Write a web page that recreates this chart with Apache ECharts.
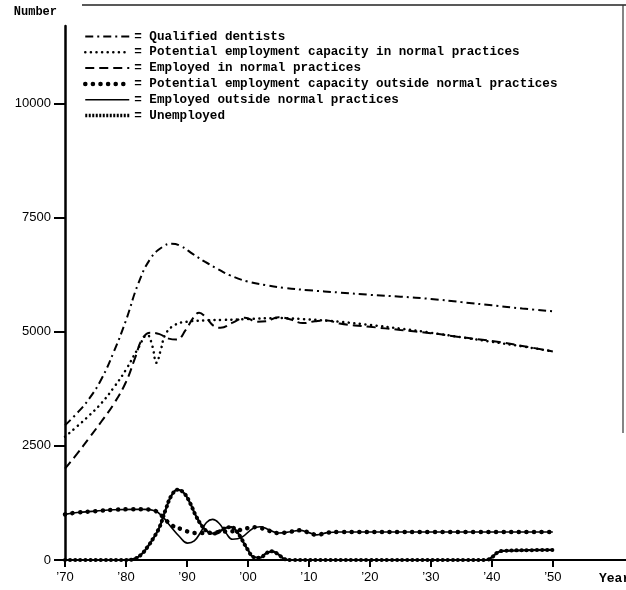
<!DOCTYPE html>
<html>
<head>
<meta charset="utf-8">
<script src="https://cdn.jsdelivr.net/npm/echarts@6/dist/echarts.min.js"></script>
<style>
  html, body { margin: 0; padding: 0; background: #fff; }
  #chart { width: 626px; height: 590px; }
</style>
</head>
<body>
<div id="chart"></div>
<script>
// values: [year, number]
const qualifiedDentists = [
  [1970, 2950], [1972, 3220], [1974, 3540], [1976, 3970], [1978, 4560], [1980, 5250],
  [1982, 6050], [1984, 6600], [1986, 6860], [1987.5, 6930], [1989, 6880], [1991, 6700],
  [1993, 6530], [1995, 6380], [1997, 6240], [2000, 6100], [2003, 6020], [2006, 5960],
  [2010, 5910], [2015, 5860], [2020, 5810], [2025, 5770], [2030, 5720], [2035, 5650],
  [2040, 5580], [2045, 5510], [2050, 5450]
];
const capacityNormal = [
  [1970, 2700], [1972, 2930], [1974, 3170], [1976, 3440], [1978, 3780], [1980, 4170],
  [1982, 4640], [1983.5, 4930], [1984.3, 4700], [1985, 4320], [1985.7, 4600], [1986.5, 4950],
  [1988, 5150], [1990, 5220], [1993, 5250], [1996, 5260], [2000, 5280], [2005, 5300],
  [2010, 5270], [2015, 5220], [2020, 5150], [2025, 5070], [2030, 4980], [2035, 4880],
  [2040, 4780], [2045, 4680], [2050, 4570]
];
const employedNormal = [
  [1970, 2000], [1972, 2330], [1974, 2680], [1976, 3040], [1978, 3420], [1980, 3900],
  [1981.5, 4430], [1982.7, 4850], [1984, 4980], [1985.5, 4950], [1987, 4850], [1988.3, 4830],
  [1989.8, 5040], [1991, 5300], [1992, 5420], [1993, 5330], [1994.5, 5120], [1995.5, 5090],
  [1997.5, 5200], [1999.5, 5310], [2001.5, 5220], [2003, 5230], [2005, 5320], [2007, 5270],
  [2009, 5190], [2011, 5230], [2013, 5250], [2015, 5180], [2020, 5110], [2025, 5040],
  [2030, 4970], [2035, 4880], [2040, 4800], [2045, 4690], [2050, 4570]
];
const capacityOutside = [
  [1970, 1000], [1972, 1040], [1975, 1070], [1978, 1100], [1981, 1110], [1983, 1110],
  [1984.5, 1090], [1985.5, 1010], [1986.5, 880], [1987.5, 760], [1989, 680], [1990.5, 610],
  [1992, 590], [1994, 600], [1996, 620], [1998, 640], [2000, 700], [2001.5, 720],
  [2003, 660], [2005, 590], [2007, 620], [2008.5, 650], [2010, 600], [2011.3, 550],
  [2013, 600], [2015, 615], [2030, 615], [2050, 615]
];
const employedOutside = [
  [1970, 1000], [1972, 1040], [1975, 1070], [1978, 1100], [1981, 1110], [1983, 1110],
  [1984.7, 1080], [1986, 950], [1987.1, 770], [1988.8, 510], [1990.1, 370], [1991.2, 420],
  [1992.3, 620], [1993.2, 820], [1994.2, 890], [1995.3, 800], [1996.4, 590], [1997.5, 455],
  [1999, 500], [2000.8, 690], [2002, 730], [2003.5, 660], [2005, 590], [2007, 620],
  [2008.5, 650], [2010, 600], [2011.3, 550], [2013, 600], [2015, 615], [2030, 615], [2050, 615]
];
const unemployed = [
  [1970, 0], [1975, 0], [1980, 0], [1981.5, 30], [1982.5, 120], [1983.5, 280], [1984.5, 480],
  [1985.5, 720], [1986.5, 1100], [1987.5, 1420], [1988.5, 1540], [1989.5, 1470], [1990.5, 1250],
  [1991.5, 960], [1992.5, 740], [1993.5, 610], [1994.5, 580], [1995.5, 640], [1996.5, 710],
  [1997.3, 720], [1998.2, 620], [1999, 450], [2000, 220], [2001, 60], [2002, 50], [2003, 150],
  [2004, 190], [2005, 120], [2006, 20], [2007, 0], [2020, 0], [2039, 0], [2040, 60],
  [2041, 170], [2042, 200], [2046, 215], [2050, 220]
];
const xTicks = [1970, 1980, 1990, 2000, 2010, 2020, 2030, 2040, 2050];
const yTicks = [0, 2500, 5000, 7500, 10000];

const names = [
  'Qualified dentists',
  'Potential employment capacity in normal practices',
  'Employed in normal practices',
  'Potential employment capacity outside normal practices',
  'Employed outside normal practices',
  'Unemployed'
];

const chart = echarts.init(document.getElementById('chart'), null, { renderer: 'canvas' });

function line(name, data, lineStyle, z) {
  return {
    type: 'line',
    name: name,
    data: data,
    smooth: 0.45,
    symbol: 'none',
    z: z,
    color: '#000',
    lineStyle: Object.assign({ color: '#000' }, lineStyle)
  };
}

const option = {
  animation: false,
  backgroundColor: '#fff',
  grid: { left: 65, right: 0, top: 26, bottom: 30, outerBoundsMode: 'none' },
  legend: {
    orient: 'vertical',
    left: 83,
    top: 30,
    padding: 0,
    itemWidth: 44,
    itemHeight: 12,
    itemGap: 2.8,
    selectedMode: false,
    itemStyle: { opacity: 0 },
    formatter: function (name) {
      return '= ' + name;
    },
    textStyle: {
      fontFamily: 'Liberation Mono',
      fontWeight: 'bold',
      fontSize: 12.6,
      lineHeight: 12,
      color: '#000'
    },
    data: [
      { name: names[0], lineStyle: { width: 2 } },
      { name: names[1], lineStyle: { width: 2.5 } },
      { name: names[2], lineStyle: { width: 2 } },
      { name: names[3], lineStyle: { width: 4.5 } },
      { name: names[4], lineStyle: { width: 1.6 } },
      { name: names[5], lineStyle: { width: 3.5, type: [2, 1.5] } }
    ]
  },
  xAxis: {
    type: 'value',
    min: 1970,
    max: 2062,
    interval: 10,
    name: 'Year',
    nameLocation: 'end',
    nameGap: -27,
    nameTextStyle: {
      fontFamily: 'Liberation Mono',
      fontWeight: 'bold',
      fontSize: 13,
      color: '#000',
      verticalAlign: 'top',
      padding: [12, 0, 0, 0]
    },
    splitLine: { show: false },
    axisLine: { lineStyle: { color: '#000', width: 2 } },
    axisTick: {
      inside: false,
      length: 7,
      lineStyle: { color: '#000', width: 2 },
      customValues: xTicks
    },
    axisLabel: {
      customValues: xTicks,
      margin: 11,
      fontFamily: 'Liberation Sans',
      fontSize: 13,
      color: '#000',
      formatter: function (v) {
        return '\u2019' + String(v).slice(2);
      }
    }
  },
  yAxis: {
    type: 'value',
    min: 0,
    max: 11700,
    interval: 2500,
    name: 'Number',
    nameLocation: 'end',
    nameGap: 8,
    nameTextStyle: {
      fontFamily: 'Liberation Mono',
      fontWeight: 'bold',
      fontSize: 12,
      color: '#000',
      align: 'right',
      padding: [0, 8, 0, 0]
    },
    splitLine: { show: false },
    axisLine: { show: true, lineStyle: { color: '#000', width: 2.5 } },
    axisTick: {
      show: true,
      length: 11,
      lineStyle: { color: '#000', width: 2 },
      customValues: yTicks
    },
    axisLabel: {
      customValues: yTicks,
      margin: 14,
      fontFamily: 'Liberation Sans',
      fontSize: 13,
      color: '#000',
      formatter: function (v) {
        return String(v);
      }
    }
  },
  graphic: [
    { type: 'line', shape: { x1: 82, y1: 5, x2: 626, y2: 5 }, style: { stroke: '#222', lineWidth: 1.5 } },
    { type: 'line', shape: { x1: 623, y1: 5, x2: 623, y2: 433 }, style: { stroke: '#333', lineWidth: 1.2 } }
  ],
  series: [
    line(names[0], qualifiedDentists, { width: 2, type: [8, 4, 2, 4] }, 3),
    line(names[1], capacityNormal, { width: 2.5, type: [0.1, 5.5], cap: 'round' }, 3),
    line(names[2], employedNormal, { width: 2, type: [9, 5] }, 3),
    line(names[3], capacityOutside, { width: 4.5, type: [0.1, 7.5], cap: 'round' }, 3),
    line(names[4], employedOutside, { width: 1.6 }, 4),
    line(names[5], unemployed, { width: 2.2 }, 5),
    line(names[5], unemployed, { width: 4, type: [0.1, 5], cap: 'round' }, 5)
  ]
};

chart.setOption(option);
</script>
</body>
</html>
